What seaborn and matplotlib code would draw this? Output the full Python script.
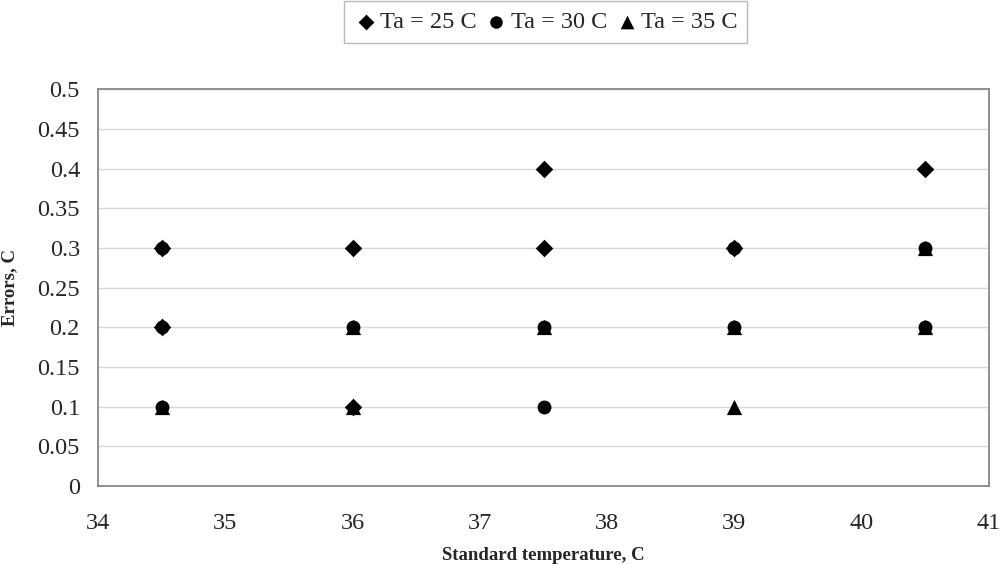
import pandas as pd
import seaborn as sns
import matplotlib.pyplot as plt

# measured errors per standard temperature, one list pair per ambient temperature
ta25_x = [34.5, 34.5, 36, 36, 37.5, 37.5, 39, 40.5]
ta25_y = [0.3, 0.2, 0.3, 0.1, 0.4, 0.3, 0.3, 0.4]
ta30_x = [34.5, 34.5, 34.5, 36, 37.5, 37.5, 39, 39, 40.5, 40.5]
ta30_y = [0.3, 0.2, 0.1, 0.2, 0.2, 0.1, 0.3, 0.2, 0.3, 0.2]
ta35_x = [34.5, 36, 36, 37.5, 39, 39, 40.5, 40.5]
ta35_y = [0.1, 0.2, 0.1, 0.2, 0.2, 0.1, 0.3, 0.2]

series = [
    ('Ta = 25 C', ta25_x, ta25_y, 'D', 80),
    ('Ta = 30 C', ta30_x, ta30_y, 'o', 100),
    ('Ta = 35 C', ta35_x, ta35_y, '^', 120),
]

sns.set_style('white')
plt.rcParams['font.family'] = ['Liberation Serif', 'DejaVu Serif']

fig = plt.figure(figsize=(10, 5.64), dpi=100)
ax = fig.add_axes([0.098, 0.138, 0.891, 0.704])

for name, xs, ys, mk, sz in series:
    df = pd.DataFrame({'x': xs, 'y': ys})
    sns.scatterplot(data=df, x='x', y='y', marker=mk, s=sz, color='black',
                    edgecolor='black', linewidth=0, ax=ax, label=name, zorder=3)

ax.set_xlim(34, 41)
ax.set_ylim(0, 0.5)
ax.set_xticks(range(34, 42))
ax.set_yticks([i * 0.05 for i in range(11)])
ax.set_yticklabels(['0', '0.05', '0.1', '0.15', '0.2', '0.25', '0.3', '0.35',
                    '0.4', '0.45', '0.5'])
ax.yaxis.grid(True, color='#d9d9d9', linewidth=1)
ax.set_axisbelow(True)
for sp in ax.spines.values():
    sp.set_color('#888888')
    sp.set_linewidth(1.3)
ax.tick_params(axis='x', direction='in', length=5, color='#bbbbbb', labelsize=17.5, pad=19)
ax.tick_params(axis='y', length=0, labelsize=17.5, pad=13)

ax.set_xlabel('Standard temperature, C', fontsize=13.5, fontweight='bold', labelpad=10)
ax.set_ylabel('Errors, C', fontsize=13.5, fontweight='bold', labelpad=14)

ax.legend_.remove()
handles, labels = ax.get_legend_handles_labels()
leg = fig.legend(handles, labels, ncol=3, loc='center', bbox_to_anchor=(0.5455, 0.961),
                 fontsize=17.5, frameon=True, fancybox=False, edgecolor='#aaaaaa',
                 handletextpad=0.1, columnspacing=0.3, handlelength=1.0,
                 borderpad=0.4, markerscale=0.9)
leg.get_frame().set_linewidth(1.0)

plt.savefig('out.png', dpi=100)
plt.close()
